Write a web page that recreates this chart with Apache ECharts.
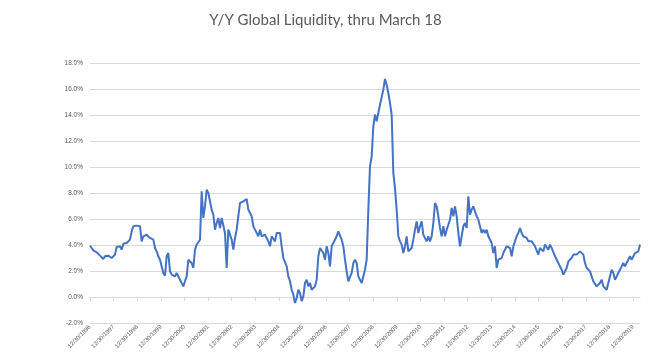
<!DOCTYPE html>
<html>
<head>
<meta charset="utf-8">
<script src="https://cdn.jsdelivr.net/npm/echarts@6/dist/echarts.min.js"></script>
<style>
html,body{margin:0;padding:0;background:#fff;}
#chart{width:651px;height:358px;}
</style>
</head>
<body>
<div id="chart"></div>
<script>
const chartTitle = 'Y/Y Global Liquidity, thru March 18';
// x axis: years after 12/30/1996, one label per year-end
const firstLabelYear = 1996;
const yearLabelCount = 24;           // 12/30/1996 ... 12/30/2019
const sampleStepYears = 0.0706;      // spacing of the readings (~3.7 weeks)
// Y/Y growth in %, from 12/30/1996 to March 2020
const liquidity = [
3.95,3.77,3.59,3.69,3.44,3.33,3.18,3.26,2.92,3.13,3.26,3.18,3.13,3.00,3.08,3.26,3.85,3.77,3.90,3.64,
4.10,4.21,4.15,4.28,4.41,5.05,5.44,5.31,5.49,5.56,5.44,4.28,4.67,4.54,4.79,4.92,4.54,4.67,4.41,3.77,
3.51,3.13,2.87,2.74,1.85,1.64,3.13,3.38,1.97,1.72,1.85,1.59,1.85,1.72,1.33,1.21,0.82,1.21,1.59,2.87,
2.74,2.62,2.23,3.64,4.03,4.21,4.41,8.13,6.08,6.97,8.26,8.00,7.36,6.72,6.33,5.18,5.69,6.08,5.31,6.08,
5.95,4.92,2.23,5.18,5.05,4.41,3.64,4.54,5.18,6.21,7.23,7.10,7.36,7.23,7.54,6.72,6.59,6.21,5.44,5.18,
5.31,4.67,5.18,4.67,4.54,4.79,4.54,4.28,3.90,4.67,4.79,4.28,4.92,5.05,4.92,3.90,3.00,2.87,2.36,1.59,
1.21,0.56,0.18,-0.46,-0.08,0.56,0.31,-0.33,0.05,1.08,1.33,0.82,1.08,0.56,0.56,0.82,1.33,3.13,3.77,3.64,
3.38,2.87,3.90,3.38,2.36,3.90,4.15,4.28,4.67,5.05,4.92,4.41,3.90,2.87,1.97,1.21,1.33,1.85,2.62,2.87,
2.62,1.59,1.33,1.08,1.21,2.10,2.87,6.72,10.05,10.82,13.13,14.03,13.51,14.15,14.79,
14.67,15.95,16.77,16.33,15.69,14.92,14.03,9.54,8.38,6.72,4.67,4.28,4.03,3.38,3.90,4.67,3.51,3.38,3.77,4.41,
5.18,5.82,4.92,5.44,5.82,4.79,4.92,4.28,4.67,4.28,4.67,5.69,7.23,6.97,6.21,5.31,4.67,5.44,4.67,5.18,
5.56,5.95,6.85,6.21,6.97,6.21,4.92,3.90,4.03,5.44,5.69,5.31,7.74,6.33,6.72,6.97,6.59,6.21,5.95,5.44,
4.92,5.18,4.92,5.18,4.67,4.79,4.15,3.38,3.90,2.23,2.87,2.87,3.00,3.38,3.64,3.90,4.03,3.77,3.13,3.90,
4.28,4.67,4.92,5.31,4.92,4.67,4.79,4.54,4.28,4.41,4.28,4.15,3.90,4.03,3.26,3.77,3.90,3.51,4.03,3.90,
3.64,4.03,3.77,3.64,3.13,3.00,2.62,2.36,2.10,1.72,1.85,2.23,2.74,2.62,3.00,3.26,3.13,3.26,3.13,3.51,
3.38,3.26,2.62,2.23,2.10,1.97,1.59,1.21,1.08,0.82,0.82,1.08,1.33,0.82,0.69,0.56,0.56,1.59,2.10,1.85,
1.33,1.59,1.85,2.10,2.36,2.62,2.36,2.62,2.74,3.13,2.87,3.00,3.38,3.26,3.51,4.03
];
const yMin = -2, yMax = 18, yStep = 2;

const points = liquidity.map((v, i) => [i * sampleStepYears, v]);
const xMax = (liquidity.length - 1) * sampleStepYears;

const chart = echarts.init(document.getElementById('chart'), null, {renderer: 'canvas'});
chart.setOption({
  animation: false,
  backgroundColor: '#ffffff',
  title: {
    text: chartTitle,
    left: 'center',
    top: 8,
    textStyle: {fontFamily: 'Lato', fontSize: 15, fontWeight: 'normal', color: '#595959'}
  },
  grid: {left: 90, right: 11, top: 63, bottom: 35, containLabel: false},
  xAxis: {
    type: 'value',
    min: 0,
    max: xMax,
    interval: 1,
    axisLine: {onZero: true, lineStyle: {color: '#d9d9d9', width: 1}},
    axisTick: {show: true, length: 4, lineStyle: {color: '#d9d9d9'}},
    splitLine: {show: false},
    axisLabel: {
      rotate: 45,
      margin: 3,
      fontSize: 6,
      fontFamily: 'Liberation Sans',
      color: '#595959',
      showMaxLabel: false,
      formatter: v => (Number.isInteger(v) && v < yearLabelCount) ? '12/30/' + (firstLabelYear + v) : ''
    }
  },
  yAxis: {
    type: 'value',
    min: yMin,
    max: yMax,
    interval: yStep,
    axisLine: {show: false},
    axisTick: {show: false},
    splitLine: {lineStyle: {color: '#d9d9d9', width: 1}},
    axisLabel: {
      margin: 7,
      fontSize: 6.5,
      fontFamily: 'Liberation Sans',
      color: '#595959',
      formatter: v => v.toFixed(1) + '%'
    }
  },
  series: [{
    type: 'line',
    data: points,
    showSymbol: false,
    lineStyle: {color: '#4472C4', width: 2},
    itemStyle: {color: '#4472C4'}
  }]
});
</script>
</body>
</html>
